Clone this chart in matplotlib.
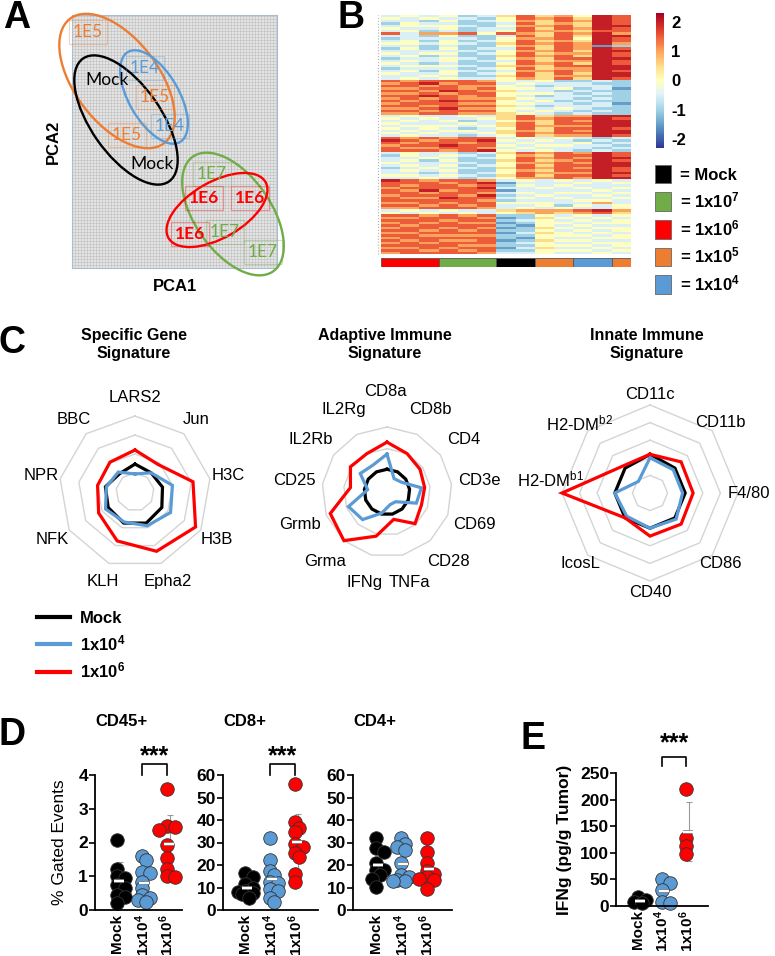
import numpy as np
import matplotlib.pyplot as plt
from matplotlib.patches import Ellipse, Patch
from matplotlib.lines import Line2D
import matplotlib.patheffects as pe

plt.rcParams['font.family'] = ['Liberation Sans', 'DejaVu Sans']
plt.rcParams['mathtext.fontset'] = 'custom'
plt.rcParams['mathtext.rm'] = 'Liberation Sans'
plt.rcParams['mathtext.bf'] = 'Liberation Sans:bold'
plt.rcParams['mathtext.it'] = 'Liberation Sans:italic'
plt.rcParams['axes.unicode_minus'] = False

BLUE = '#5b9bd5'
RED = '#ff0000'
GREEN = '#70ad47'
ORANGE = '#ed7d31'
group_color = {'Mock': 'black', '1E7': GREEN, '1E6': RED, '1E5': ORANGE, '1E4': BLUE}

# ---- A: PCA ----
ell_group = ['1E5', '1E4', 'Mock', '1E7', '1E6']
ell_center = [(4.5, 18.7), (8.2, 17.1), (5.4, 14.8), (16.1, 5.4), (14.5, 5.8)]
ell_size = [(15.6, 8.4), (10.4, 5.0), (15.0, 7.0), (14.0, 7.6), (11.2, 5.6)]
ell_angle = [-53, -60, -55, -55, 30]
sample_group = ['1E5', 'Mock', '1E4', '1E5', '1E5', '1E4', 'Mock', '1E7', '1E6', '1E6', '1E6', '1E7', '1E7']
sample_pc1 = [1.6, 3.5, 7.3, 8.3, 5.5, 9.8, 8.0, 14.0, 13.2, 17.8, 11.8, 15.3, 19.1]
sample_pc2 = [23.6, 18.8, 20.0, 17.1, 13.3, 14.2, 10.4, 9.4, 7.0, 7.0, 3.4, 3.6, 1.6]

# ---- B: heatmap (levels 0..8 -> -2..2) ----
heat_rows = [
    "3434235756487", "4343324767587", "3324234657687", "2433223756587", "3444324667588",
    "4334233757687", "3423234766577", "7366747657686", "3324223757588", "2333324667487",
    "3424234756587", "4434325767686", "3323224657612", "2424233757687", "3333324667588",
    "4344234756687", "3423225767587", "2334324657788", "3434233756687", "4323224767587",
    "3444325657788", "2333234756688", "3424323667687", "4334234757588", "3343225756688",
    "3434334657587",
    "7677764342232", "6786773433322", "7767664323332", "6677674434231", "7768765332322",
    "6676774443232", "7787674323322", "6767665433232", "7678774342322", "6777664433231",
    "7767775323332", "6678664434322", "7767774343232", "6677665432322",
    "3433435756688", "4343345767787", "3434234657688", "4333435757788", "3444345766688",
    "4343234757787", "3434435657688", "4343345767788", "3433234756687",
    "7676773434323", "8767784343232", "7677673433423", "6778774344332", "7667763433323",
    "7776784343232",
    "3433235767687", "2434324657787", "3343234767688", "3424225756787", "4333324667688",
    "3434234757788", "2343325767687", "3434224657787", "3323234766688", "4434325757787",
    "3343234667688",
    "8767763434343", "7776781333434", "7677672434333", "6777783343434", "7686771333343",
    "7767763434434", "6777682343343", "7668773434334", "7777762333443", "6676774443363",
    "7767673342434", "6677763434334",
    "3434335666786", "4343434565675",
    "7767672243434", "6677761254343", "7776772343434", "6767661244344", "7677772143433",
    "6776761254344", "7767672243434", "6677771354343", "7766662244434", "6777772143344",
    "7676671254433", "6767772343344", "7777662244434", "6676771353343", "7767672244434",
    "6777763343343",
]
heat_groups = ['1E6', '1E6', '1E6', '1E7', '1E7', '1E7', 'Mock', 'Mock', '1E5', '1E5', '1E4', '1E4', '1E5']
legend_b_groups = ['Mock', '1E7', '1E6', '1E5', '1E4']
legend_b_labels = ['= Mock', r'= 1x10$^{\mathbf{7}}$', r'= 1x10$^{\mathbf{6}}$',
                   r'= 1x10$^{\mathbf{5}}$', r'= 1x10$^{\mathbf{4}}$']

# ---- C: radar ----
r1_labels = ['LARS2', 'Jun', 'H3C', 'H3B', 'Epha2', 'KLH', 'NFK', 'NPR', 'BBC']
r1_mock = [1.47, 1.32, 1.47, 1.63, 1.74, 1.74, 1.63, 1.58, 1.26]
r1_e4 = [0.95, 1.32, 2.0, 2.16, 1.89, 1.68, 1.79, 1.53, 1.37]
r1_e6 = [2.21, 1.89, 3.1, 3.68, 3.32, 2.74, 2.21, 2.0, 2.05]

r2_labels = ['CD8a', 'CD8b', 'CD4', 'CD3e', 'CD69', 'CD28', 'TNFa', 'IFNg', 'Grma', 'Grmb',
             'CD25', 'IL2Rb', 'IL2Rg']
r2_mock = [1.05, 1.05, 1.05, 1.05, 1.05, 1.05, 1.05, 1.05, 1.05, 1.05, 1.05, 1.05, 1.05]
r2_e4 = [1.75, 0.7, 0.8, 1.6, 1.45, 0.6, 0.6, 1.0, 1.7, 1.9, 0.9, 1.5, 1.4]
r2_e6 = [2.3, 2.0, 1.85, 1.75, 1.7, 1.95, 1.3, 2.1, 3.0, 2.8, 1.7, 2.05, 2.0]

r3_labels = ['CD11c', 'CD11b', 'F4/80', 'CD86', 'CD40', 'IcosL',
             r'H2-DM$^{\mathrm{b1}}$', r'H2-DM$^{\mathrm{b2}}$']
r3_mock = [2.2, 2.0, 2.0, 2.0, 2.0, 2.0, 2.0, 2.0]
r3_e4 = [2.0, 1.87, 1.85, 2.1, 2.0, 1.87, 2.0, 0.93]
r3_e6 = [2.2, 2.5, 2.45, 2.5, 2.45, 2.0, 5.0, 2.17]

# ---- D / E: dot plots ----
dose_labels = ['Mock', r'$\mathbf{1x10^4}$', r'$\mathbf{1x10^6}$']
cd45 = [[2.08, 1.22, 1.0, 0.94, 0.74, 0.64, 0.45, 0.38, 0.22],
        [1.6, 1.47, 1.14, 1.09, 0.84, 0.64, 0.45, 0.35, 0.3, 0.25],
        [3.59, 2.5, 2.45, 2.38, 1.93, 1.53, 1.22, 1.0, 0.97]]
cd8 = [[16.3, 14.8, 11.5, 10, 8.5, 8, 7.5, 7, 5.2],
       [31.8, 22.2, 17.5, 15.5, 12.5, 11.8, 9.2, 8.5, 5.5, 3.5],
       [56, 39, 36.5, 34.5, 29.5, 28, 25.5, 23.5, 16, 12.5]]
cd4 = [[31.9, 27.4, 25.6, 21, 18, 17.7, 15.6, 13.8, 10.4],
       [32, 29.5, 28, 26.5, 20.8, 15.5, 14.5, 13.5, 13, 12.8],
       [32, 25.8, 21, 17.5, 16, 14.5, 14, 13.5, 9.5]]
ifng = [[16, 11, 7, 5],
        [51.5, 44, 30, 8, 6],
        [220, 128, 113, 97]]

W, H = 775, 956
fig = plt.figure(figsize=(W / 100, H / 100), dpi=100)


def px_axes(x0, y0, x1, y1, **kw):
    return fig.add_axes([x0 / W, 1 - y1 / H, (x1 - x0) / W, (y1 - y0) / H], **kw)


def panel_letter(x, y, s):
    fig.text(x / W, 1 - y / H, s, fontsize=27, fontweight='bold', ha='center', va='center')


# ================= A =================
ax = px_axes(72, 15, 277, 268)
ax.set_xlim(0, 20.5)
ax.set_ylim(0, 25.3)
ax.set_facecolor('#e4e4e4')
ax.set_xticks(np.arange(0, 20.5, 0.3))
ax.set_yticks(np.arange(0, 25.3, 0.3))
ax.grid(color='#bdbdbd', lw=0.4)
ax.tick_params(length=0, labelbottom=False, labelleft=False)
for s in ax.spines.values():
    s.set_color('#a9bdd2')
for g, c, sz, a in zip(ell_group, ell_center, ell_size, ell_angle):
    ax.add_patch(Ellipse(c, sz[0], sz[1], angle=a, fill=False, lw=1.7,
                         ec=group_color[g], clip_on=False, zorder=3))
for g, x, y in zip(sample_group, sample_pc1, sample_pc2):
    box = None if g == 'Mock' else dict(boxstyle='square,pad=0.25', fc='none',
                                        ec=group_color[g], alpha=0.35, lw=0.8)
    ax.text(x, y, g, color=group_color[g], fontsize=12.5, ha='center', va='center',
            family='Lato', fontweight='bold' if g == '1E6' else 'normal', bbox=box, zorder=4)
ax.set_xlabel('PCA1', fontsize=12, fontweight='bold', labelpad=8)
ax.set_ylabel('PCA2', fontsize=12, fontweight='bold', labelpad=8)
panel_letter(17, 18, 'A')

# ================= B =================
heat = (np.array([[int(ch) for ch in r] for r in heat_rows]) - 4) * 0.5
ax = px_axes(381, 15, 631, 254)
im = ax.imshow(heat, cmap='RdYlBu_r', vmin=-2.3, vmax=2.3, aspect='auto',
               interpolation='nearest')
ax.axvline(-0.68, color='#b0b0b0', lw=0.8, ls=':', clip_on=False)
ax.set_xlim(-0.5, len(heat_groups) - 0.5)
ax.set_axis_off()

ax = px_axes(381, 258, 631, 267)
runs = []
for i, g in enumerate(heat_groups):
    if runs and runs[-1][0] == g:
        runs[-1][2] += 1
    else:
        runs.append([g, i, 1])
for g, start, n in runs:
    ax.bar(start - 0.5, 1, width=n, align='edge', color=group_color[g], ec='#555555', lw=0.6)
ax.set_xlim(-0.5, len(heat_groups) - 0.5)
ax.set_ylim(0, 1)
ax.set_axis_off()

cax = px_axes(656, 13, 664, 148)
cb = fig.colorbar(im, cax=cax, ticks=[-2, -1, 0, 1, 2])
cb.outline.set_visible(False)
cax.tick_params(length=0, labelsize=12, pad=5)
for t in cax.get_yticklabels():
    t.set_fontweight('bold')

handles = [Patch(fc=group_color[g], ec='#666666', lw=0.6) for g in legend_b_groups]
fig.legend(handles, legend_b_labels, loc='upper left', bbox_to_anchor=(648 / W, 1 - 158 / H),
           frameon=False, prop=dict(size=12, weight='bold'), handlelength=1.0,
           handleheight=1.35, labelspacing=0.42, handletextpad=0.5, borderaxespad=0)
panel_letter(351, 18, 'B')

# ================= C =================
series_colors = ['black', BLUE, RED]


def radar(cx, cy, outer_px, rmax, label_px, labels, series, title, title_x, nudge=None):
    half = 130
    ax = px_axes(cx - half, cy - half, cx + half, cy + half)
    lim = rmax * half / outer_px
    ax.set_xlim(-lim, lim)
    ax.set_ylim(-lim, lim)
    ax.set_axis_off()
    n = len(labels)
    ang = np.arange(n + 1) * 2 * np.pi / n
    for r in range(1, rmax + 1):
        ax.plot(r * np.sin(ang), r * np.cos(ang), color='#d4d4d4', lw=1, zorder=1)
    for vals, c in zip(series, series_colors):
        v = np.append(vals, vals[0])
        ax.plot(v * np.sin(ang), v * np.cos(ang), color=c, lw=2.3, zorder=3,
                solid_joinstyle='miter')
    rl = rmax * label_px / outer_px
    for i, (a, lab) in enumerate(zip(ang[:-1], labels)):
        x, y = rl * np.sin(a), rl * np.cos(a)
        if nudge and i in nudge:
            x += nudge[i][0] * rmax / outer_px
            y += nudge[i][1] * rmax / outer_px
        ax.text(x, y, lab, ha='center', va='center', fontsize=12)
    fig.text(title_x / W, 1 - 345 / H, title, ha='center', va='center', fontsize=11.5,
             fontweight='bold', linespacing=1.25)


radar(135, 492, 76, 4, 95, r1_labels, [r1_mock, r1_e4, r1_e6],
      'Specific Gene\nSignature', 134)
radar(387, 492, 65, 3, 93, r2_labels, [r2_mock, r2_e4, r2_e6],
      'Adaptive Immune\nSignature', 385, nudge={0: (-2, 8)})
radar(650, 493, 88, 5, 99, r3_labels, [r3_mock, r3_e4, r3_e6],
      'Innate Immune\nSignature', 647, nudge={6: (0, 14)})

lines = [Line2D([], [], color=c, lw=3) for c in series_colors]
fig.legend(lines, ['Mock', r'1x10$^{\mathbf{4}}$', r'1x10$^{\mathbf{6}}$'], loc='upper left',
           bbox_to_anchor=(30 / W, 1 - 604 / H), frameon=False,
           prop=dict(size=12, weight='bold'), handlelength=2.0, labelspacing=0.45,
           handletextpad=0.6, borderaxespad=0)
panel_letter(12, 343, 'C')

# ================= D / E =================
dot_colors = ['black', BLUE, RED]


def swarm(ax, xc, vals, diam):
    tr = ax.transData
    inv = tr.inverted()
    placed = []
    xs = np.zeros(len(vals))
    x0 = tr.transform((xc, 0))[0]
    for i in np.argsort(vals)[::-1]:
        yp = tr.transform((xc, vals[i]))[1]
        best, best_d = x0, -1
        for k in [0, 1, -1, 2, -2]:
            xp = x0 + k * diam * 0.3
            d = min([np.hypot(xp - a, yp - b) for a, b in placed] or [1e9])
            if d >= diam * 0.45:
                best = xp
                break
            if d > best_d:
                best, best_d = xp, d
        placed.append((best, yp))
        xs[i] = inv.transform((best, yp))[0]
    return xs


def dot_panel(x0, y0, x1, y1, data, ymax, ystep, xmax, title=None, ylabel=None,
              ylabel_x=None, ylabel_bold=False, star=None, star_y=(1.08, 1.0, 1.14)):
    ax = px_axes(x0, y0, x1, y1)
    ax.set_xlim(-0.9, xmax)
    ax.set_ylim(0, ymax)
    for s in ['top', 'right']:
        ax.spines[s].set_visible(False)
    for s in ['left', 'bottom']:
        ax.spines[s].set_linewidth(1.3)
    ax.set_yticks(np.arange(0, ymax + 0.01, ystep))
    ax.tick_params(axis='y', labelsize=12.5, width=1.2, length=4, pad=1)
    for t in ax.get_yticklabels():
        t.set_fontweight('bold')
    ax.set_xticks(range(3))
    ax.set_xticklabels(dose_labels, rotation=90, fontsize=11, fontweight='bold')
    ax.tick_params(axis='x', length=0, pad=3)
    for i, vals in enumerate(data):
        vals = np.array(vals, dtype=float)
        m, sd = vals.mean(), vals.std(ddof=1)
        ax.errorbar(i + 0.12, m, yerr=sd, color='#9a9a9a', lw=0.8, capsize=2.5,
                    capthick=0.8, zorder=1)
        xs = swarm(ax, i, vals, 13)
        ax.scatter(xs, vals, s=95, color=dot_colors[i], ec='#333333', lw=0.6, zorder=2,
                   clip_on=False)
        ax.plot([i - 0.12, i + 0.28], [m, m], color='white', lw=1.6, zorder=3,
                solid_capstyle='butt',
                path_effects=[pe.Stroke(linewidth=2.6, foreground='#777777'), pe.Normal()])
    if title:
        ax.text(0.0, 1.40, title, transform=ax.transAxes, fontsize=12, fontweight='bold',
                ha='left', va='center')
    if ylabel:
        ax.set_ylabel(ylabel, fontsize=12.5, fontweight='bold' if ylabel_bold else 'normal')
        ax.yaxis.set_label_coords(ylabel_x, 0.5)
    if star:
        a, b = star
        tr = ax.get_xaxis_transform()
        top, leg, sy = star_y
        ax.plot([a, a, b, b], [leg, top, top, leg], color='black', lw=1.2, transform=tr,
                clip_on=False)
        ax.text((a + b) / 2, sy, '***', transform=tr, ha='center', va='center',
                fontsize=18, fontweight='bold')
    return ax


dot_panel(95, 775, 182, 910, cd45, 4, 1, 2.6, title='CD45+', ylabel='% Gated Events',
          ylabel_x=-0.32, star=(1, 2))
dot_panel(223, 775, 318, 910, cd8, 60, 10, 2.9, title='CD8+', star=(1, 2))
dot_panel(353, 775, 452, 910, cd4, 60, 10, 3.0, title='CD4+')
dot_panel(616, 773, 708, 906, ifng, 250, 50, 2.9, ylabel='IFNg (pg/g Tumor)',
          ylabel_x=-0.48, ylabel_bold=True, star=(1, 2), star_y=(1.12, 1.05, 1.22))
panel_letter(12, 735, 'D')
panel_letter(533, 739, 'E')

fig.savefig('out.png', dpi=100)
